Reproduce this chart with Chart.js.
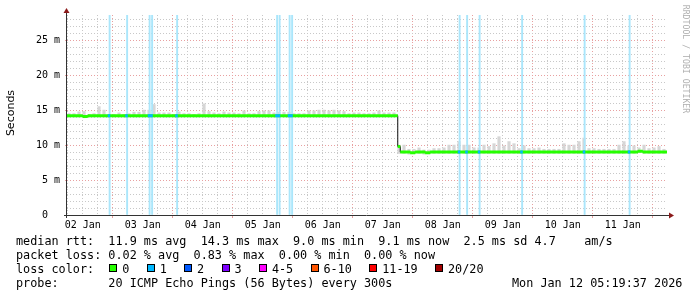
<!DOCTYPE html>
<html>
<head>
<meta charset="utf-8">
<script src="https://cdn.jsdelivr.net/npm/chart.js@4/dist/chart.umd.min.js"></script>
<style>
  html, body { margin: 0; padding: 0; background: #fff; }
  #wrap { position: relative; width: 697px; height: 297px; overflow: hidden; font-family: "DejaVu Sans Mono", monospace; }
  #c { position: absolute; left: 0; top: 0; }
  .txt { position: absolute; white-space: pre; font-size: 11.8px; line-height: 14px; color: #000; }
  .box { position: absolute; width: 6px; height: 6px; border: 1px solid #000; }
  #ylab { position: absolute; left: -19px; top: 106px; width: 60px; height: 14px; line-height: 14px; text-align: center;
          font-family: "DejaVu Sans", sans-serif; font-size: 11px; color: #000; transform: rotate(-90deg); }
  #mark { position: absolute; left: 631px; top: 53px; width: 110px; height: 12px; line-height: 12px; text-align: center;
          font-size: 8.2px; color: #b0b0b0; transform: rotate(90deg); white-space: pre; }
</style>
</head>
<body>
<div id="wrap">
  <canvas id="c" width="697" height="297"></canvas>
  <div id="ylab">Seconds</div>
  <div id="mark">RRDTOOL / TOBI OETIKER</div>
  <div class="txt" style="left:16px;top:234px">median rtt:  11.9 ms avg  14.3 ms max  9.0 ms min  9.1 ms now  2.5 ms sd 4.7    am/s</div>
  <div class="txt" style="left:16px;top:248px">packet loss: 0.02 % avg  0.83 % max  0.00 % min  0.00 % now</div>
  <div class="txt" style="left:16px;top:262px">loss color:</div>
  <div class="txt" style="left:16px;top:276px">probe:       20 ICMP Echo Pings (56 Bytes) every 300s</div>
  <div class="txt" style="left:512px;top:276px">Mon Jan 12 05:19:37 2026</div>
</div>
<script>
// x values are hours since 02 Jan 00:00
const xStart = 5.7;
const xEnd = 245.7;
const dayLabels = ["02 Jan", "03 Jan", "04 Jan", "05 Jan", "06 Jan", "07 Jan", "08 Jan", "09 Jan", "10 Jan", "11 Jan"];
const yMax = 28.6;
const yTickValues = [0, 5, 10, 15, 20, 25];
const yTickLabels = ["0  ", "5 m", "10 m", "15 m", "20 m", "25 m"];

// median rtt in ms, as [hour where it changes, value]
const medianSteps = [
  [5.7, 14.2], [12, 14.1], [14, 14.2], [138, 9.8], [139, 9.0],
  [143, 8.9], [145, 9.0], [149, 8.9], [151, 9.0], [234, 9.1], [236, 9.0]
];

// smoke top in ms, one value per 2 hour bin from 02 Jan 06:00
const smokeStart = 6;
const smokeTop = [
  14.5, 14.5, 14.75, 14.8, 14.4, 14.5, 15.5, 15.0, 14.4, 14.4,
  14.6, 14.4, 14.5, 14.7, 14.7, 15.0, 15.0, 15.8, 14.6, 14.6,
  14.6, 14.4, 14.75, 14.5, 14.5, 14.4, 14.5, 15.9, 14.8, 14.6,
  14.5, 14.75, 14.6, 14.6, 14.5, 14.9, 14.5, 14.5, 14.8, 14.9,
  14.9, 14.6, 14.7, 14.7, 14.7, 14.5, 14.5, 14.5, 14.9, 14.9,
  15.0, 15.0, 14.9, 15.0, 14.9, 14.8, 14.5, 14.6, 14.6, 14.5,
  14.5, 14.6, 14.9, 14.6, 14.6, 14.6, 10.0, 10.0, 9.4, 9.4,
  9.6, 9.3, 9.3, 9.5, 9.5, 9.6, 10.0, 10.0, 10.5, 10.0,
  10.0, 9.6, 9.6, 10.0, 9.8, 10.2, 11.2, 9.9, 10.5, 10.2,
  9.5, 9.9, 9.5, 9.5, 9.6, 9.4, 9.4, 9.4, 9.4, 10.2,
  10.0, 10.0, 10.5, 11.0, 9.5, 9.5, 9.4, 9.4, 9.4, 9.4,
  10.0, 10.5, 9.9, 9.9, 9.6, 10.0, 9.5, 9.6, 9.8, 9.4
];

// hours (start of the 1 hour step) where 1 of 20 pings was lost
const lossHours = [22, 29, 38, 39, 49, 89, 90, 94, 95, 162, 165, 170, 187, 212, 230];

const lossLabels = ["0", "1", "2", "3", "4-5", "6-10", "11-19", "20/20"];
const lossColors = ["#26ff00", "#00b8ff", "#0059ff", "#7e00ff", "#ff00ff", "#ff5500", "#ff0000", "#a10000"];

const minorGrid = "#c8c8c8";
const majorGrid = "#e8a0a0";

function medianAt(h) {
  let v = medianSteps[0][1];
  for (const [x, y] of medianSteps) {
    if (x <= h) v = y;
  }
  return v;
}

const smokeData = smokeTop.map((top, i) => {
  const x = smokeStart + 2 * i + 1;
  return { x, y: [medianAt(x) - 0.2, top] };
});

const lossData = lossHours.map(h => ({ x: h + 0.5, y: yMax }));

const medianLine = medianSteps.map(([x, y]) => ({ x, y }));
medianLine.push({ x: xEnd, y: medianSteps[medianSteps.length - 1][1] });

const greenPieces = [];
medianSteps.forEach(([x, y], k) => {
  const end = k + 1 < medianSteps.length ? medianSteps[k + 1][0] : xEnd;
  greenPieces.push({ x, y }, { x: end, y }, { x: end, y: null });
});

const bluePieces = [];
lossHours.forEach(h => {
  const m = medianAt(h);
  bluePieces.push({ x: h, y: m }, { x: h + 1, y: m }, { x: h + 1, y: null });
});

const gridHours = [];
for (let h = 6; h <= 240; h += 6) gridHours.push(h);
const gridMs = [];
for (let v = 0; v <= 28; v++) gridMs.push(v);

const axesPlugin = {
  id: "rrdAxes",
  afterDatasetsDraw(chart) {
    const { ctx, chartArea: a } = chart;
    ctx.save();
    ctx.strokeStyle = "#333";
    ctx.lineWidth = 1;
    ctx.beginPath();
    ctx.moveTo(a.left - 0.5, a.bottom + 3);
    ctx.lineTo(a.left - 0.5, a.top - 3);
    ctx.moveTo(a.left - 3, a.bottom + 0.5);
    ctx.lineTo(a.right + 2, a.bottom + 0.5);
    ctx.stroke();
    ctx.fillStyle = "#8b1a1a";
    ctx.beginPath();
    ctx.moveTo(a.left - 0.5, a.top - 7);
    ctx.lineTo(a.left - 3.5, a.top - 2);
    ctx.lineTo(a.left + 2.5, a.top - 2);
    ctx.closePath();
    ctx.fill();
    ctx.beginPath();
    ctx.moveTo(a.right + 7, a.bottom + 0.5);
    ctx.lineTo(a.right + 2, a.bottom - 2.5);
    ctx.lineTo(a.right + 2, a.bottom + 3.5);
    ctx.closePath();
    ctx.fill();
    ctx.restore();
  }
};

new Chart(document.getElementById("c"), {
  type: "line",
  data: {
    datasets: [
      {
        type: "bar", label: "smoke", data: smokeData, xAxisID: "x", order: 5,
        backgroundColor: "#d6d6d6", borderWidth: 0, barPercentage: 1, categoryPercentage: 1
      },
      {
        type: "bar", label: "loss", data: lossData, xAxisID: "xLoss", order: 4,
        backgroundColor: "#aae6fb", borderWidth: 0, barPercentage: 1, categoryPercentage: 1
      },
      {
        label: "median", data: medianLine, xAxisID: "x", order: 3, stepped: true,
        borderColor: "#111", borderWidth: 1, pointRadius: 0
      },
      {
        label: "median loss 0", data: greenPieces, xAxisID: "x", order: 2, spanGaps: false,
        borderColor: lossColors[0], borderWidth: 3, pointRadius: 0, tension: 0
      },
      {
        label: "median loss 1", data: bluePieces, xAxisID: "x", order: 1, spanGaps: false,
        borderColor: lossColors[1], borderWidth: 3, pointRadius: 0, tension: 0
      }
    ]
  },
  options: {
    responsive: false,
    devicePixelRatio: 1,
    animation: false,
    events: [],
    layout: { padding: { top: 15, right: 30, left: 0, bottom: 0 } },
    plugins: { legend: { display: false }, tooltip: { enabled: false } },
    scales: {
      x: {
        type: "linear", position: "bottom", min: xStart, max: xEnd, offset: false,
        afterBuildTicks: s => { s.ticks = gridHours.map(v => ({ value: v })); },
        afterFit: s => { s.height = 82; },
        grid: {
          offset: false,
          color: c => (c.tick && c.tick.value % 24 === 0 ? majorGrid : minorGrid),
          tickColor: c => (c.tick && c.tick.value % 24 === 0 ? majorGrid : "rgba(0,0,0,0)"),
          tickLength: 3
        },
        border: { display: false, dash: [1, 2] },
        ticks: {
          autoSkip: false, maxRotation: 0, padding: 1, color: "#000",
          font: { family: "DejaVu Sans Mono", size: 10 },
          callback: v => ((v - 12) % 24 === 0 ? dayLabels[(v - 12) / 24] : "")
        }
      },
      xLoss: {
        type: "linear", position: "bottom", display: false, min: xStart, max: xEnd, offset: false,
        afterBuildTicks: s => { s.ticks = lossData.map(d => ({ value: d.x })); }
      },
      y: {
        type: "linear", min: 0, max: yMax,
        afterBuildTicks: s => { s.ticks = gridMs.map(v => ({ value: v })); },
        afterFit: s => { s.width = 67; },
        grid: {
          color: c => (c.tick && c.tick.value % 5 === 0 ? majorGrid : minorGrid),
          tickColor: c => (c.tick && c.tick.value % 5 === 0 ? majorGrid : "rgba(0,0,0,0)"),
          tickLength: 2
        },
        border: { display: false, dash: [1, 2] },
        ticks: {
          autoSkip: false, padding: 5, color: "#000",
          font: { family: "DejaVu Sans Mono", size: 10 },
          callback: v => {
            const i = yTickValues.indexOf(v);
            return i >= 0 ? yTickLabels[i] : "";
          }
        }
      }
    }
  },
  plugins: [axesPlugin]
});

// loss colour legend boxes
const wrap = document.getElementById("wrap");
let bx = 109.3;
lossLabels.forEach((lab, i) => {
  const box = document.createElement("div");
  box.className = "box";
  box.style.left = bx + "px";
  box.style.top = "264px";
  box.style.background = lossColors[i];
  wrap.appendChild(box);
  const t = document.createElement("div");
  t.className = "txt";
  t.style.left = (bx + 13) + "px";
  t.style.top = "262px";
  t.textContent = lab;
  wrap.appendChild(t);
  bx += 13 + lab.length * 7.1 + 17.3;
});
</script>
</body>
</html>
